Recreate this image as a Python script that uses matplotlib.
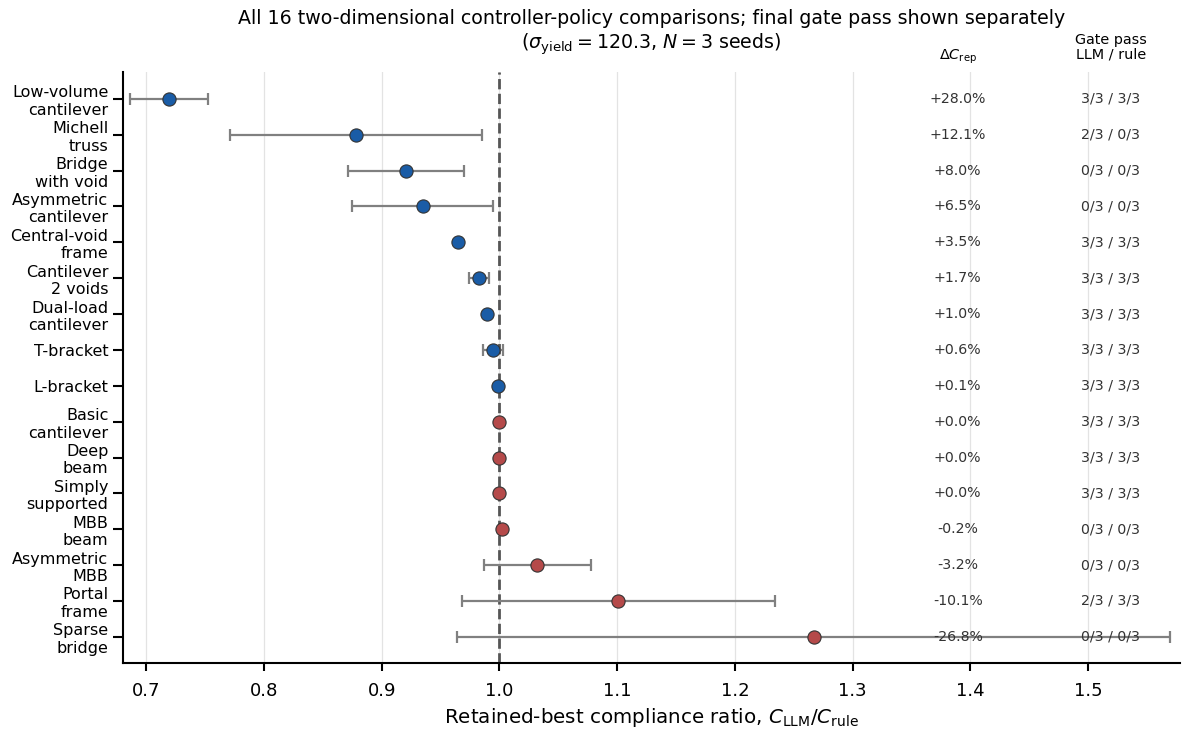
import matplotlib
matplotlib.use('Agg')
import matplotlib.pyplot as plt
import numpy as np

# Data
labels = ['Low-volume\ncantilever', 'Michell\ntruss', 'Bridge\nwith void',
          'Asymmetric\ncantilever', 'Central-void\nframe', 'Cantilever\n2 voids',
          'Dual-load\ncantilever', 'T-bracket', 'L-bracket', 'Basic\ncantilever',
          'Deep\nbeam', 'Simply\nsupported', 'MBB\nbeam', 'Asymmetric\nMBB',
          'Portal\nframe', 'Sparse\nbridge']
ratio = [0.7194, 0.8783, 0.9206, 0.9346, 0.9645, 0.9824, 0.9896, 0.9945,
         0.9990, 1.0000, 1.0000, 1.0000, 1.0020, 1.0322, 1.1008, 1.2670]
ratio_err = [0.033, 0.107, 0.049, 0.060, 0.0, 0.0087, 0.0, 0.0082,
             0.0, 0.0, 0.0, 0.0, 0.0, 0.0454, 0.133, 0.303]
delta_c = ['+28.0%', '+12.1%', '+8.0%', '+6.5%', '+3.5%', '+1.7%', '+1.0%',
           '+0.6%', '+0.1%', '+0.0%', '+0.0%', '+0.0%', '-0.2%', '-3.2%',
           '-10.1%', '-26.8%']
gate_pass = ['3/3 / 3/3', '2/3 / 0/3', '0/3 / 0/3', '0/3 / 0/3', '3/3 / 3/3',
             '3/3 / 3/3', '3/3 / 3/3', '3/3 / 3/3', '3/3 / 3/3', '3/3 / 3/3',
             '3/3 / 3/3', '3/3 / 3/3', '0/3 / 0/3', '0/3 / 0/3', '2/3 / 3/3',
             '0/3 / 0/3']

blue = '#1a5ca6'
red = '#b54a4a'

fig = plt.figure(figsize=(11.82, 7.31), dpi=100)
ax = fig.add_axes([0.104, 0.093, 0.894, 0.8085])

y = np.arange(len(labels))

for i in range(len(labels)):
    if ratio_err[i] > 0:
        ax.errorbar(ratio[i], y[i], xerr=ratio_err[i], fmt='none',
                    ecolor='#808080', elinewidth=1.6, capsize=4,
                    capthick=1.6, zorder=2)
    color = blue if ratio[i] < 1.0 else red
    ax.plot(ratio[i], y[i], 'o', markersize=9.5, color=color,
            markeredgecolor='#333333', markeredgewidth=0.8, zorder=3)

ax.axvline(1.0, color='#555555', linestyle='--', linewidth=2, zorder=1)

# side columns
for i in range(len(labels)):
    ax.text(0.79, y[i], delta_c[i], transform=ax.get_yaxis_transform(),
            ha='center', va='center', fontsize=10.2, color='#333333', zorder=4)
    ax.text(0.935, y[i], gate_pass[i], transform=ax.get_yaxis_transform(),
            ha='center', va='center', fontsize=10.2, color='#333333', zorder=4)
ax.text(0.79, -0.92, r'$\Delta C_{\mathrm{rep}}$', transform=ax.get_yaxis_transform(),
        ha='center', va='bottom', fontsize=10.4)
ax.text(0.935, -1.05, 'Gate pass\nLLM / rule', transform=ax.get_yaxis_transform(),
        ha='center', va='bottom', fontsize=10.4, linespacing=1.0)

ax.set_yticks(y)
ax.set_yticklabels(labels, fontsize=11.5)
ax.set_ylim(len(labels) - 0.27, -0.75)
ax.set_xlim(0.68, 1.578)
ax.set_xticks([0.7, 0.8, 0.9, 1.0, 1.1, 1.2, 1.3, 1.4, 1.5])
ax.tick_params(axis='x', labelsize=13, length=6, width=1.5, pad=8)
ax.tick_params(axis='y', length=7, width=1.5)

ax.grid(axis='x', color='#e3e3e3', linewidth=0.9)
ax.set_axisbelow(True)
for s in ['top', 'right']:
    ax.spines[s].set_visible(False)
for s in ['left', 'bottom']:
    ax.spines[s].set_linewidth(1.5)

ax.set_xlabel(r'Retained-best compliance ratio, $C_{\mathrm{LLM}}/C_{\mathrm{rule}}$',
              fontsize=14.3, labelpad=4)
ax.set_title('All 16 two-dimensional controller-policy comparisons; final gate pass shown separately\n'
             r'($\sigma_{\mathrm{yield}} = 120.3$, $N = 3$ seeds)', fontsize=13.7, pad=17)

fig.savefig('out.png', dpi=100)
